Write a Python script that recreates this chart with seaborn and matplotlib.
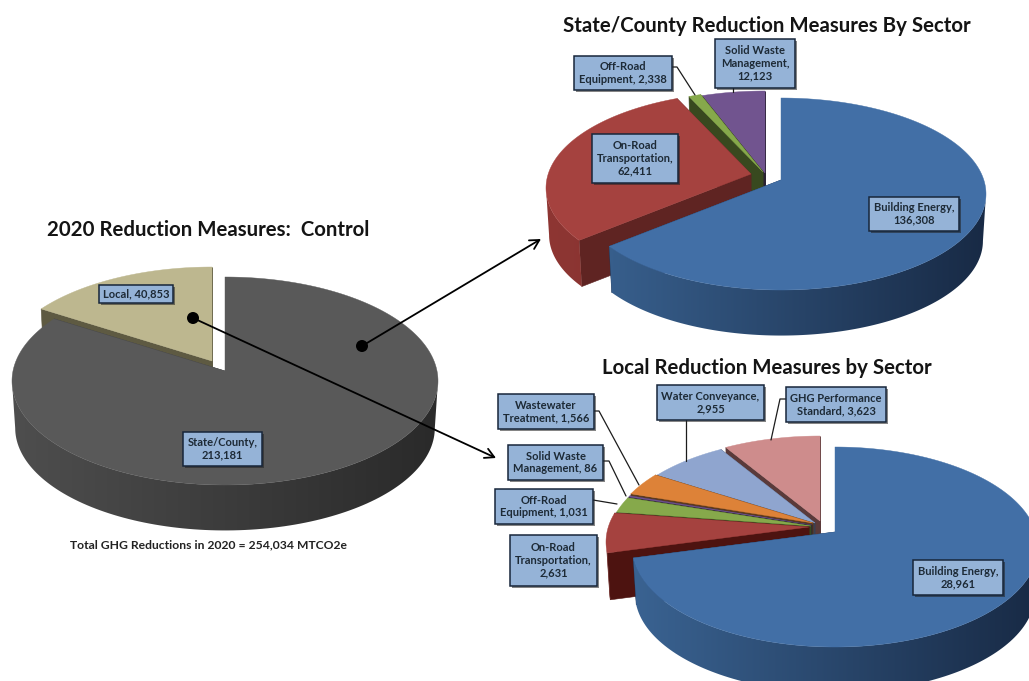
import numpy as np
import matplotlib
matplotlib.use("Agg")
import matplotlib.pyplot as plt
from matplotlib.patches import Rectangle, Circle, Polygon
import seaborn as sns

# Values (MTCO2e)
control_names = ["State/County,\n{}", "Local, {}"]
control_values = [213181, 40853]

state_names = ["Building Energy,\n{}", "On-Road\nTransportation,\n{}",
               "Off-Road\nEquipment, {}", "Solid Waste\nManagement,\n{}"]
state_values = [136308, 62411, 2338, 12123]

local_names = ["Building Energy,\n{}", "On-Road\nTransportation,\n{}",
               "Off-Road\nEquipment, {}", "Solid Waste\nManagement, {}",
               "Wastewater\nTreatment, {}", "Water Conveyance,\n{}",
               "GHG Performance\nStandard, {}"]
local_values = [28961, 2631, 1031, 86, 1566, 2955, 3623]

# Slice styling: top colour, outer wall (light end, dark end), cut face
control_style = [("#595959", "#4e4e4e", "#2a2a2a", "#3a3a3a"),
                 ("#bdb78f", "#8d8868", "#6d6950", "#5e5a42")]
state_style = [("#426fa6", "#3a6392", "#182a45", "#1f3556"),
               ("#a5423f", "#8e3633", "#6b2725", "#5f2422"),
               ("#86a94b", "#5f7a33", "#46591f", "#38491f"),
               ("#71548f", "#54406b", "#3f304f", "#2a2233")]
local_style = [("#426fa6", "#3a6392", "#182a45", "#1f3556"),
               ("#a5423f", "#6e2320", "#571a17", "#4d1310"),
               ("#86a94b", "#5f7a33", "#46591f", "#38491f"),
               ("#71548f", "#54406b", "#3f304f", "#2a2233"),
               ("#dd8238", "#a55f25", "#8a4e1d", "#5d3a1e"),
               ("#8fa5cf", "#5f7297", "#4f5f80", "#3a3f52"),
               ("#ce8c8c", "#8d5f5f", "#704a4a", "#5a3a3a")]

# Pie placement in canvas pixels
control_geom = dict(cx=225, cy=381, a=213, b=104, lift=10, depth=47)
state_geom = dict(cx=781, cy=194, a=205, b=96, lift=14, depth=47)
local_geom = dict(cx=835, cy=547, a=203, b=100, lift=15, depth=47)

control_shift = [(0, 0), (-13, -10)]
state_shift = [(0, 0), (-30, -6), (-18, -8), (-16, -7)]
local_shift = [(0, 0), (-26, -5), (-24, -6), (-23, -7), (-22, -9), (-20, -9), (-15, -11)]

# Painter's order, back slices first
control_order = [1, 0]
state_order = [3, 2, 1, 0]
local_order = [6, 5, 4, 3, 2, 1, 0]

# Label boxes: left, top, right, bottom
control_boxes = [(183, 432, 262, 466), (99, 285, 173, 303)]
state_boxes = [(869, 197, 959, 231), (592, 134, 678, 183),
               (574, 56, 672, 90), (715, 39, 795, 88)]
local_boxes = [(913, 560, 1003, 595), (510, 535, 597, 586),
               (495, 489, 593, 524), (508, 445, 603, 480),
               (498, 394, 594, 429), (657, 385, 764, 420),
               (786, 387, 886, 422)]

state_leaders = [[(672, 67), (677, 67), (695, 95)], [(733, 88), (733, 92)]]
local_leaders = [[(594, 411), (599, 411), (639, 485)],
                 [(603, 461), (609, 461), (626, 496)],
                 [(593, 500), (617, 504)],
                 [(686, 420), (686, 461)],
                 [(786, 399), (780, 399), (771, 440)]]

FONT = "Lato"
BOX_FILL = "#95b3d7"
BOX_EDGE = "#17263a"
TITLE_SIZE = 14.65

sns.set_theme(style="white")
plt.rcParams["font.family"] = [FONT, "DejaVu Sans"]

fig = plt.figure(figsize=(10.29, 6.81), dpi=100, facecolor="white")
ax = fig.add_axes([0, 0, 1, 1])
ax.axis("off")

X_RAMP = np.linspace(0, 1, 256).reshape(1, -1)


def project(theta, geom, shift=(0, 0), shrink=1.0, drop=0.0):
    """Perspective view of a point on the pie's unit circle; theta runs clockwise from 12 o'clock."""
    k = geom["lift"] / geom["b"]
    u, v = np.sin(theta), np.cos(theta)
    w = 1 + k * v
    x = geom["a"] * np.sqrt(1 - k * k) * u / w
    y = (geom["b"] * v + geom["lift"]) / w
    return (geom["cx"] + shift[0] + x * shrink,
            geom["cy"] + shift[1] - y * shrink + drop)


def apex(geom, shift=(0, 0), drop=0.0):
    return (geom["cx"] + shift[0], geom["cy"] - geom["lift"] + shift[1] + drop)


def draw_pie(values, styles, geom, shifts, order):
    edges = np.deg2rad(np.concatenate([[0], np.cumsum(values) / np.sum(values) * 360]))
    drop, shrink = geom["depth"], 0.985
    k = geom["lift"] / geom["b"]
    front_lo = np.arccos(-k)
    front_hi = 2 * np.pi - front_lo
    for i in order:
        start, end = edges[i], edges[i + 1]
        shift = shifts[i]
        top, wall_light, wall_dark, cut = styles[i]
        ax0, ay0 = apex(geom, shift)
        bx0, by0 = apex(geom, shift, drop)

        # Cut faces sit behind the outer wall
        for t in (end, start):
            rx, ry = project(t, geom, shift)
            sx, sy = project(t, geom, shift, shrink, drop)
            ax.fill([ax0, rx, sx, bx0], [ay0, ry, sy, by0], color=cut, lw=0.4, zorder=2)

        # Outer wall only where it faces the viewer, shaded left to right
        lo, hi = max(start, front_lo), min(end, front_hi)
        if hi > lo:
            thetas = np.linspace(lo, hi, 120)
            xt, yt = project(thetas, geom, shift)
            xb, yb = project(thetas[::-1], geom, shift, shrink, drop)
            outline = Polygon(np.column_stack([np.r_[xt, xb], np.r_[yt, yb]]),
                              transform=ax.transData)
            cmap = sns.blend_palette([wall_light, wall_dark], 64, as_cmap=True)
            x_left = geom["cx"] + shift[0] - geom["a"]
            x_right = geom["cx"] + shift[0] + geom["a"]
            img = ax.imshow(X_RAMP, cmap=cmap, aspect="auto", zorder=2, vmin=0, vmax=1,
                            extent=(x_left, x_right, 681, 0), interpolation="bilinear")
            img.set_clip_path(outline)

        # Top face
        thetas = np.linspace(start, end, max(int(np.degrees(end - start)) * 2, 4))
        xs, ys = project(thetas, geom, shift)
        ax.fill(np.r_[ax0, xs], np.r_[ay0, ys], color=top, lw=0.3, zorder=2)


def draw_labels(names, values, boxes):
    for name, value, (x0, y0, x1, y1) in zip(names, values, boxes):
        ax.add_patch(Rectangle((x0 + 1.5, y0 + 1.5), x1 - x0, y1 - y0, fc="#222222",
                               ec="none", alpha=0.55, zorder=6))
        ax.add_patch(Rectangle((x0, y0), x1 - x0, y1 - y0, fc=BOX_FILL, ec=BOX_EDGE,
                               lw=1.1, zorder=7))
        ax.text((x0 + x1) / 2, (y0 + y1) / 2, name.format(f"{value:,}"), ha="center",
                va="center", fontsize=8.0, fontweight="bold", color="#1d2a36",
                linespacing=1.18, zorder=8)


def draw_leaders(paths):
    for path in paths:
        xs, ys = zip(*path)
        ax.plot(xs, ys, color="#1c1c1c", lw=0.9, zorder=5)


draw_pie(state_values, state_style, state_geom, state_shift, state_order)
draw_pie(local_values, local_style, local_geom, local_shift, local_order)
draw_pie(control_values, control_style, control_geom, control_shift, control_order)

draw_leaders(state_leaders)
draw_leaders(local_leaders)

draw_labels(control_names, control_values, control_boxes)
draw_labels(state_names, state_values, state_boxes)
draw_labels(local_names, local_values, local_boxes)

# Arrows tying the control pie to its sector breakdowns
for (x0, y0), (x1, y1) in [((362, 346), (541, 239)), ((193, 318), (496, 458))]:
    ax.annotate("", xy=(x1, y1), xytext=(x0, y0), zorder=9,
                arrowprops=dict(arrowstyle="->,head_length=0.55,head_width=0.3",
                                color="black", lw=1.3, shrinkA=0, shrinkB=0))
    ax.add_patch(Circle((x0, y0), 6, fc="black", ec="none", zorder=10))

ax.text(208.5, 229.5, "2020 Reduction Measures:  Control", ha="center", va="center",
        fontsize=TITLE_SIZE, fontweight="bold", color="#141414")
ax.text(766.5, 26, "State/County Reduction Measures By Sector", ha="center", va="center",
        fontsize=TITLE_SIZE, fontweight="bold", color="#141414")
ax.text(767, 367.5, "Local Reduction Measures by Sector", ha="center", va="center",
        fontsize=TITLE_SIZE, fontweight="bold", color="#141414")
ax.text(209, 544.5, "Total GHG Reductions in 2020 = 254,034 MTCO2e", ha="center", va="center",
        fontsize=8.75, fontweight="bold", color="#222222")

# The wall images would otherwise reset the view
ax.set_xlim(0, 1029)
ax.set_ylim(681, 0)

fig.savefig("out.png", dpi=100, facecolor="white")
